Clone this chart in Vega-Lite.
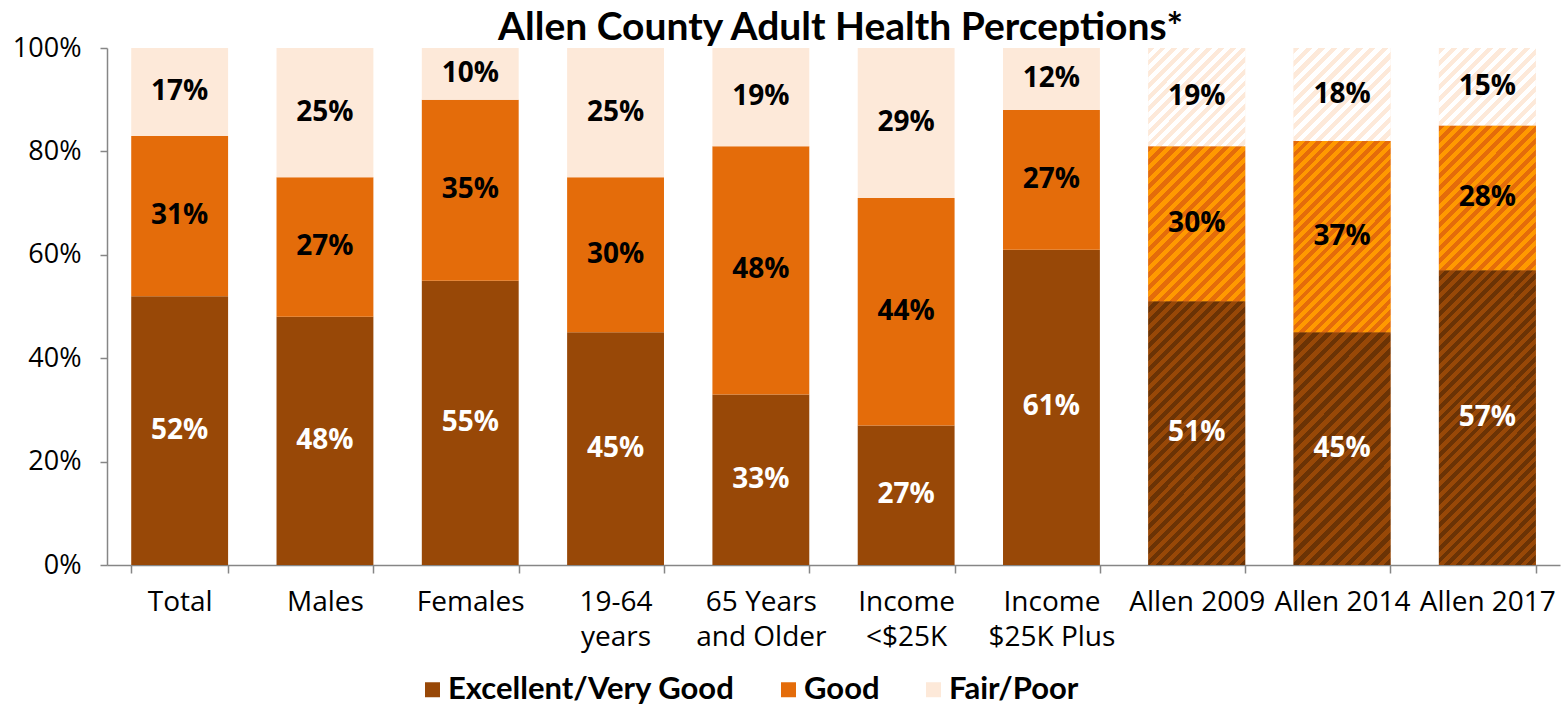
{
"$schema": "https://vega.github.io/schema/vega-lite/v6.json",
"width": 1453, "height": 517,
"autosize": {"type": "none"},
"padding": {"left": 107, "top": 48, "right": 1, "bottom": 141},
"background": "white",
"config": {"view": {"stroke": null}, "font": "Open Sans"},
"title": {"text": "Allen County Adult Health Perceptions*", "font": "Lato", "fontSize": 39, "fontWeight": "bold", "color": "#000000", "anchor": "middle", "frame": "group", "offset": 3, "dy": 17, "dx": 7},
"data": {"values": [
{"group": "Total", "rating": "Excellent/Very Good", "value": 52},
{"group": "Total", "rating": "Good", "value": 31},
{"group": "Total", "rating": "Fair/Poor", "value": 17},
{"group": "Males", "rating": "Excellent/Very Good", "value": 48},
{"group": "Males", "rating": "Good", "value": 27},
{"group": "Males", "rating": "Fair/Poor", "value": 25},
{"group": "Females", "rating": "Excellent/Very Good", "value": 55},
{"group": "Females", "rating": "Good", "value": 35},
{"group": "Females", "rating": "Fair/Poor", "value": 10},
{"group": "19-64 years", "rating": "Excellent/Very Good", "value": 45},
{"group": "19-64 years", "rating": "Good", "value": 30},
{"group": "19-64 years", "rating": "Fair/Poor", "value": 25},
{"group": "65 Years and Older", "rating": "Excellent/Very Good", "value": 33},
{"group": "65 Years and Older", "rating": "Good", "value": 48},
{"group": "65 Years and Older", "rating": "Fair/Poor", "value": 19},
{"group": "Income <$25K", "rating": "Excellent/Very Good", "value": 27},
{"group": "Income <$25K", "rating": "Good", "value": 44},
{"group": "Income <$25K", "rating": "Fair/Poor", "value": 29},
{"group": "Income $25K Plus", "rating": "Excellent/Very Good", "value": 61},
{"group": "Income $25K Plus", "rating": "Good", "value": 27},
{"group": "Income $25K Plus", "rating": "Fair/Poor", "value": 12},
{"group": "Allen 2009", "rating": "Excellent/Very Good", "value": 51},
{"group": "Allen 2009", "rating": "Good", "value": 30},
{"group": "Allen 2009", "rating": "Fair/Poor", "value": 19},
{"group": "Allen 2014", "rating": "Excellent/Very Good", "value": 45},
{"group": "Allen 2014", "rating": "Good", "value": 37},
{"group": "Allen 2014", "rating": "Fair/Poor", "value": 18},
{"group": "Allen 2017", "rating": "Excellent/Very Good", "value": 57},
{"group": "Allen 2017", "rating": "Good", "value": 28},
{"group": "Allen 2017", "rating": "Fair/Poor", "value": 15}
]},
"transform": [
{"calculate": "indexof(['Excellent/Very Good','Good','Fair/Poor'], datum.rating)", "as": "ord"},
{"stack": "value", "groupby": ["group"], "sort": [{"field": "ord", "order": "ascending"}], "as": ["v0", "v1"]},
{"calculate": "(datum.v0 + datum.v1) / 2", "as": "mid"},
{"calculate": "datum.value + '%'", "as": "lbl"}
],
"encoding": {
"x": {"field": "group", "type": "nominal", "sort": null,
 "scale": {"paddingInner": 0.3333, "paddingOuter": 0.1667},
 "axis": {"title": null, "labelAngle": 0, "labelFont": "Open Sans", "labelFontSize": 28, "labelColor": "#000000", "labelPadding": 15, "labelLineHeight": 35, "tickBand": "extent", "tickSize": 8, "tickColor": "#868686", "tickWidth": 1.5, "domainColor": "#868686", "domainWidth": 1.5,
  "labelExpr": "datum.label == '19-64 years' ? ['19-64', 'years'] : datum.label == '65 Years and Older' ? ['65 Years', 'and Older'] : datum.label == 'Income <$25K' ? ['Income', '<$25K'] : datum.label == 'Income $25K Plus' ? ['Income', '$25K Plus'] : datum.label"}},
"y": {"field": "v1", "type": "quantitative", "scale": {"domain": [0, 100], "nice": false},
 "axis": {"title": null, "values": [0, 20, 40, 60, 80, 100], "labelExpr": "datum.value + '%'", "grid": false, "labelFont": "Open Sans", "labelFontSize": 27, "labelColor": "#000000", "labelPadding": 19, "tickSize": 7, "tickColor": "#868686", "tickWidth": 1.5, "domainColor": "#868686", "domainWidth": 1.5}}
},
"layer": [
{"mark": {"type": "bar"},
 "encoding": {"y2": {"field": "v0"},
  "color": {"field": "rating", "type": "nominal",
   "scale": {"domain": ["Excellent/Very Good", "Good", "Fair/Poor"], "range": ["#984807", "#e46c0a", "#fde9d9"]},
   "legend": {"orient": "none", "legendX": 310, "legendY": 626, "direction": "horizontal", "title": null, "symbolType": "square", "symbolSize": 225, "symbolStrokeWidth": 0, "symbolOpacity": 1, "labelFont": "Lato", "labelFontSize": 31, "labelFontWeight": "bold", "labelColor": "#000000", "labelLimit": 600, "columnPadding": 38, "labelOffset": 0}}}},
{"transform": [{"filter": "datum.group == 'Allen 2009' && datum.rating == 'Excellent/Very Good'"}],
 "mark": {"type": "bar", "color": {"gradient": "linear", "x1": 0, "y1": 0, "x2": 0.4432, "y2": 1.2048, "stops": [
{"offset":0,"color":"#984807"},
{"offset":0.0167,"color":"#984807"},{"offset":0.0167,"color":"#6b3305"},{"offset":0.0333,"color":"#6b3305"},{"offset":0.0333,"color":"#984807"},{"offset":0.05,"color":"#984807"},{"offset":0.05,"color":"#6b3305"},{"offset":0.0667,"color":"#6b3305"},{"offset":0.0667,"color":"#984807"},{"offset":0.0833,"color":"#984807"},{"offset":0.0833,"color":"#6b3305"},{"offset":0.1,"color":"#6b3305"},{"offset":0.1,"color":"#984807"},
{"offset":0.1167,"color":"#984807"},{"offset":0.1167,"color":"#6b3305"},{"offset":0.1333,"color":"#6b3305"},{"offset":0.1333,"color":"#984807"},{"offset":0.15,"color":"#984807"},{"offset":0.15,"color":"#6b3305"},{"offset":0.1667,"color":"#6b3305"},{"offset":0.1667,"color":"#984807"},{"offset":0.1833,"color":"#984807"},{"offset":0.1833,"color":"#6b3305"},{"offset":0.2,"color":"#6b3305"},{"offset":0.2,"color":"#984807"},
{"offset":0.2167,"color":"#984807"},{"offset":0.2167,"color":"#6b3305"},{"offset":0.2333,"color":"#6b3305"},{"offset":0.2333,"color":"#984807"},{"offset":0.25,"color":"#984807"},{"offset":0.25,"color":"#6b3305"},{"offset":0.2667,"color":"#6b3305"},{"offset":0.2667,"color":"#984807"},{"offset":0.2833,"color":"#984807"},{"offset":0.2833,"color":"#6b3305"},{"offset":0.3,"color":"#6b3305"},{"offset":0.3,"color":"#984807"},
{"offset":0.3167,"color":"#984807"},{"offset":0.3167,"color":"#6b3305"},{"offset":0.3333,"color":"#6b3305"},{"offset":0.3333,"color":"#984807"},{"offset":0.35,"color":"#984807"},{"offset":0.35,"color":"#6b3305"},{"offset":0.3667,"color":"#6b3305"},{"offset":0.3667,"color":"#984807"},{"offset":0.3833,"color":"#984807"},{"offset":0.3833,"color":"#6b3305"},{"offset":0.4,"color":"#6b3305"},{"offset":0.4,"color":"#984807"},
{"offset":0.4167,"color":"#984807"},{"offset":0.4167,"color":"#6b3305"},{"offset":0.4333,"color":"#6b3305"},{"offset":0.4333,"color":"#984807"},{"offset":0.45,"color":"#984807"},{"offset":0.45,"color":"#6b3305"},{"offset":0.4667,"color":"#6b3305"},{"offset":0.4667,"color":"#984807"},{"offset":0.4833,"color":"#984807"},{"offset":0.4833,"color":"#6b3305"},{"offset":0.5,"color":"#6b3305"},{"offset":0.5,"color":"#984807"},
{"offset":0.5167,"color":"#984807"},{"offset":0.5167,"color":"#6b3305"},{"offset":0.5333,"color":"#6b3305"},{"offset":0.5333,"color":"#984807"},{"offset":0.55,"color":"#984807"},{"offset":0.55,"color":"#6b3305"},{"offset":0.5667,"color":"#6b3305"},{"offset":0.5667,"color":"#984807"},{"offset":0.5833,"color":"#984807"},{"offset":0.5833,"color":"#6b3305"},{"offset":0.6,"color":"#6b3305"},{"offset":0.6,"color":"#984807"},
{"offset":0.6167,"color":"#984807"},{"offset":0.6167,"color":"#6b3305"},{"offset":0.6333,"color":"#6b3305"},{"offset":0.6333,"color":"#984807"},{"offset":0.65,"color":"#984807"},{"offset":0.65,"color":"#6b3305"},{"offset":0.6667,"color":"#6b3305"},{"offset":0.6667,"color":"#984807"},{"offset":0.6833,"color":"#984807"},{"offset":0.6833,"color":"#6b3305"},{"offset":0.7,"color":"#6b3305"},{"offset":0.7,"color":"#984807"},
{"offset":0.7167,"color":"#984807"},{"offset":0.7167,"color":"#6b3305"},{"offset":0.7333,"color":"#6b3305"},{"offset":0.7333,"color":"#984807"},{"offset":0.75,"color":"#984807"},{"offset":0.75,"color":"#6b3305"},{"offset":0.7667,"color":"#6b3305"},{"offset":0.7667,"color":"#984807"},{"offset":0.7833,"color":"#984807"},{"offset":0.7833,"color":"#6b3305"},{"offset":0.8,"color":"#6b3305"},{"offset":0.8,"color":"#984807"},
{"offset":0.8167,"color":"#984807"},{"offset":0.8167,"color":"#6b3305"},{"offset":0.8333,"color":"#6b3305"},{"offset":0.8333,"color":"#984807"},{"offset":0.85,"color":"#984807"},{"offset":0.85,"color":"#6b3305"},{"offset":0.8667,"color":"#6b3305"},{"offset":0.8667,"color":"#984807"},{"offset":0.8833,"color":"#984807"},{"offset":0.8833,"color":"#6b3305"},{"offset":0.9,"color":"#6b3305"},{"offset":0.9,"color":"#984807"},
{"offset":0.9167,"color":"#984807"},{"offset":0.9167,"color":"#6b3305"},{"offset":0.9333,"color":"#6b3305"},{"offset":0.9333,"color":"#984807"},{"offset":0.95,"color":"#984807"},{"offset":0.95,"color":"#6b3305"},{"offset":0.9667,"color":"#6b3305"},{"offset":0.9667,"color":"#984807"},{"offset":0.9833,"color":"#984807"},{"offset":0.9833,"color":"#6b3305"}]}},
 "encoding": {"y2": {"field": "v0"}}},
{"transform": [{"filter": "datum.group == 'Allen 2009' && datum.rating == 'Good'"}],
 "mark": {"type": "bar", "color": {"gradient": "linear", "x1": 0, "y1": 0, "x2": 0.7307, "y2": 1.1684, "stops": [
{"offset":0,"color":"#e46c0a"},
{"offset":0.025,"color":"#e46c0a"},{"offset":0.025,"color":"#ff9900"},{"offset":0.05,"color":"#ff9900"},{"offset":0.05,"color":"#e46c0a"},{"offset":0.075,"color":"#e46c0a"},{"offset":0.075,"color":"#ff9900"},{"offset":0.1,"color":"#ff9900"},{"offset":0.1,"color":"#e46c0a"},
{"offset":0.125,"color":"#e46c0a"},{"offset":0.125,"color":"#ff9900"},{"offset":0.15,"color":"#ff9900"},{"offset":0.15,"color":"#e46c0a"},{"offset":0.175,"color":"#e46c0a"},{"offset":0.175,"color":"#ff9900"},{"offset":0.2,"color":"#ff9900"},{"offset":0.2,"color":"#e46c0a"},
{"offset":0.225,"color":"#e46c0a"},{"offset":0.225,"color":"#ff9900"},{"offset":0.25,"color":"#ff9900"},{"offset":0.25,"color":"#e46c0a"},{"offset":0.275,"color":"#e46c0a"},{"offset":0.275,"color":"#ff9900"},{"offset":0.3,"color":"#ff9900"},{"offset":0.3,"color":"#e46c0a"},
{"offset":0.325,"color":"#e46c0a"},{"offset":0.325,"color":"#ff9900"},{"offset":0.35,"color":"#ff9900"},{"offset":0.35,"color":"#e46c0a"},{"offset":0.375,"color":"#e46c0a"},{"offset":0.375,"color":"#ff9900"},{"offset":0.4,"color":"#ff9900"},{"offset":0.4,"color":"#e46c0a"},
{"offset":0.425,"color":"#e46c0a"},{"offset":0.425,"color":"#ff9900"},{"offset":0.45,"color":"#ff9900"},{"offset":0.45,"color":"#e46c0a"},{"offset":0.475,"color":"#e46c0a"},{"offset":0.475,"color":"#ff9900"},{"offset":0.5,"color":"#ff9900"},{"offset":0.5,"color":"#e46c0a"},
{"offset":0.525,"color":"#e46c0a"},{"offset":0.525,"color":"#ff9900"},{"offset":0.55,"color":"#ff9900"},{"offset":0.55,"color":"#e46c0a"},{"offset":0.575,"color":"#e46c0a"},{"offset":0.575,"color":"#ff9900"},{"offset":0.6,"color":"#ff9900"},{"offset":0.6,"color":"#e46c0a"},
{"offset":0.625,"color":"#e46c0a"},{"offset":0.625,"color":"#ff9900"},{"offset":0.65,"color":"#ff9900"},{"offset":0.65,"color":"#e46c0a"},{"offset":0.675,"color":"#e46c0a"},{"offset":0.675,"color":"#ff9900"},{"offset":0.7,"color":"#ff9900"},{"offset":0.7,"color":"#e46c0a"},
{"offset":0.725,"color":"#e46c0a"},{"offset":0.725,"color":"#ff9900"},{"offset":0.75,"color":"#ff9900"},{"offset":0.75,"color":"#e46c0a"},{"offset":0.775,"color":"#e46c0a"},{"offset":0.775,"color":"#ff9900"},{"offset":0.8,"color":"#ff9900"},{"offset":0.8,"color":"#e46c0a"},
{"offset":0.825,"color":"#e46c0a"},{"offset":0.825,"color":"#ff9900"},{"offset":0.85,"color":"#ff9900"},{"offset":0.85,"color":"#e46c0a"},{"offset":0.875,"color":"#e46c0a"},{"offset":0.875,"color":"#ff9900"},{"offset":0.9,"color":"#ff9900"},{"offset":0.9,"color":"#e46c0a"},
{"offset":0.925,"color":"#e46c0a"},{"offset":0.925,"color":"#ff9900"},{"offset":0.95,"color":"#ff9900"},{"offset":0.95,"color":"#e46c0a"},{"offset":0.975,"color":"#e46c0a"},{"offset":0.975,"color":"#ff9900"}]}},
 "encoding": {"y2": {"field": "v0"}}},
{"transform": [{"filter": "datum.group == 'Allen 2009' && datum.rating == 'Fair/Poor'"}],
 "mark": {"type": "bar", "color": {"gradient": "linear", "x1": 0, "y1": 0, "x2": 0.9938, "y2": 1.0061, "stops": [
{"offset":0,"color":"#fde9d9"},
{"offset":0.03,"color":"#fde9d9"},{"offset":0.03,"color":"#ffffff"},{"offset":0.06,"color":"#ffffff"},{"offset":0.06,"color":"#fde9d9"},{"offset":0.09,"color":"#fde9d9"},{"offset":0.09,"color":"#ffffff"},{"offset":0.12,"color":"#ffffff"},{"offset":0.12,"color":"#fde9d9"},
{"offset":0.15,"color":"#fde9d9"},{"offset":0.15,"color":"#ffffff"},{"offset":0.18,"color":"#ffffff"},{"offset":0.18,"color":"#fde9d9"},{"offset":0.21,"color":"#fde9d9"},{"offset":0.21,"color":"#ffffff"},{"offset":0.24,"color":"#ffffff"},{"offset":0.24,"color":"#fde9d9"},
{"offset":0.27,"color":"#fde9d9"},{"offset":0.27,"color":"#ffffff"},{"offset":0.3,"color":"#ffffff"},{"offset":0.3,"color":"#fde9d9"},{"offset":0.33,"color":"#fde9d9"},{"offset":0.33,"color":"#ffffff"},{"offset":0.36,"color":"#ffffff"},{"offset":0.36,"color":"#fde9d9"},
{"offset":0.39,"color":"#fde9d9"},{"offset":0.39,"color":"#ffffff"},{"offset":0.42,"color":"#ffffff"},{"offset":0.42,"color":"#fde9d9"},{"offset":0.45,"color":"#fde9d9"},{"offset":0.45,"color":"#ffffff"},{"offset":0.48,"color":"#ffffff"},{"offset":0.48,"color":"#fde9d9"},
{"offset":0.51,"color":"#fde9d9"},{"offset":0.51,"color":"#ffffff"},{"offset":0.54,"color":"#ffffff"},{"offset":0.54,"color":"#fde9d9"},{"offset":0.57,"color":"#fde9d9"},{"offset":0.57,"color":"#ffffff"},{"offset":0.6,"color":"#ffffff"},{"offset":0.6,"color":"#fde9d9"},
{"offset":0.63,"color":"#fde9d9"},{"offset":0.63,"color":"#ffffff"},{"offset":0.66,"color":"#ffffff"},{"offset":0.66,"color":"#fde9d9"},{"offset":0.69,"color":"#fde9d9"},{"offset":0.69,"color":"#ffffff"},{"offset":0.72,"color":"#ffffff"},{"offset":0.72,"color":"#fde9d9"},
{"offset":0.75,"color":"#fde9d9"},{"offset":0.75,"color":"#ffffff"},{"offset":0.78,"color":"#ffffff"},{"offset":0.78,"color":"#fde9d9"},{"offset":0.81,"color":"#fde9d9"},{"offset":0.81,"color":"#ffffff"},{"offset":0.84,"color":"#ffffff"},{"offset":0.84,"color":"#fde9d9"},
{"offset":0.87,"color":"#fde9d9"},{"offset":0.87,"color":"#ffffff"},{"offset":0.9,"color":"#ffffff"},{"offset":0.9,"color":"#fde9d9"},{"offset":0.93,"color":"#fde9d9"},{"offset":0.93,"color":"#ffffff"},{"offset":0.96,"color":"#ffffff"},{"offset":0.96,"color":"#fde9d9"},
{"offset":0.99,"color":"#fde9d9"},{"offset":0.99,"color":"#ffffff"}]}},
 "encoding": {"y2": {"field": "v0"}}},
{"transform": [{"filter": "datum.group == 'Allen 2014' && datum.rating == 'Excellent/Very Good'"}],
 "mark": {"type": "bar", "color": {"gradient": "linear", "x1": 0, "y1": 0, "x2": 0.5033, "y2": 1.2071, "stops": [
{"offset":0,"color":"#984807"},
{"offset":0.02,"color":"#984807"},{"offset":0.02,"color":"#6b3305"},{"offset":0.04,"color":"#6b3305"},{"offset":0.04,"color":"#984807"},{"offset":0.06,"color":"#984807"},{"offset":0.06,"color":"#6b3305"},{"offset":0.08,"color":"#6b3305"},{"offset":0.08,"color":"#984807"},{"offset":0.1,"color":"#984807"},{"offset":0.1,"color":"#6b3305"},
{"offset":0.12,"color":"#6b3305"},{"offset":0.12,"color":"#984807"},{"offset":0.14,"color":"#984807"},{"offset":0.14,"color":"#6b3305"},{"offset":0.16,"color":"#6b3305"},{"offset":0.16,"color":"#984807"},{"offset":0.18,"color":"#984807"},{"offset":0.18,"color":"#6b3305"},{"offset":0.2,"color":"#6b3305"},{"offset":0.2,"color":"#984807"},
{"offset":0.22,"color":"#984807"},{"offset":0.22,"color":"#6b3305"},{"offset":0.24,"color":"#6b3305"},{"offset":0.24,"color":"#984807"},{"offset":0.26,"color":"#984807"},{"offset":0.26,"color":"#6b3305"},{"offset":0.28,"color":"#6b3305"},{"offset":0.28,"color":"#984807"},{"offset":0.3,"color":"#984807"},{"offset":0.3,"color":"#6b3305"},
{"offset":0.32,"color":"#6b3305"},{"offset":0.32,"color":"#984807"},{"offset":0.34,"color":"#984807"},{"offset":0.34,"color":"#6b3305"},{"offset":0.36,"color":"#6b3305"},{"offset":0.36,"color":"#984807"},{"offset":0.38,"color":"#984807"},{"offset":0.38,"color":"#6b3305"},{"offset":0.4,"color":"#6b3305"},{"offset":0.4,"color":"#984807"},
{"offset":0.42,"color":"#984807"},{"offset":0.42,"color":"#6b3305"},{"offset":0.44,"color":"#6b3305"},{"offset":0.44,"color":"#984807"},{"offset":0.46,"color":"#984807"},{"offset":0.46,"color":"#6b3305"},{"offset":0.48,"color":"#6b3305"},{"offset":0.48,"color":"#984807"},{"offset":0.5,"color":"#984807"},{"offset":0.5,"color":"#6b3305"},
{"offset":0.52,"color":"#6b3305"},{"offset":0.52,"color":"#984807"},{"offset":0.54,"color":"#984807"},{"offset":0.54,"color":"#6b3305"},{"offset":0.56,"color":"#6b3305"},{"offset":0.56,"color":"#984807"},{"offset":0.58,"color":"#984807"},{"offset":0.58,"color":"#6b3305"},{"offset":0.6,"color":"#6b3305"},{"offset":0.6,"color":"#984807"},
{"offset":0.62,"color":"#984807"},{"offset":0.62,"color":"#6b3305"},{"offset":0.64,"color":"#6b3305"},{"offset":0.64,"color":"#984807"},{"offset":0.66,"color":"#984807"},{"offset":0.66,"color":"#6b3305"},{"offset":0.68,"color":"#6b3305"},{"offset":0.68,"color":"#984807"},{"offset":0.7,"color":"#984807"},{"offset":0.7,"color":"#6b3305"},
{"offset":0.72,"color":"#6b3305"},{"offset":0.72,"color":"#984807"},{"offset":0.74,"color":"#984807"},{"offset":0.74,"color":"#6b3305"},{"offset":0.76,"color":"#6b3305"},{"offset":0.76,"color":"#984807"},{"offset":0.78,"color":"#984807"},{"offset":0.78,"color":"#6b3305"},{"offset":0.8,"color":"#6b3305"},{"offset":0.8,"color":"#984807"},
{"offset":0.82,"color":"#984807"},{"offset":0.82,"color":"#6b3305"},{"offset":0.84,"color":"#6b3305"},{"offset":0.84,"color":"#984807"},{"offset":0.86,"color":"#984807"},{"offset":0.86,"color":"#6b3305"},{"offset":0.88,"color":"#6b3305"},{"offset":0.88,"color":"#984807"},{"offset":0.9,"color":"#984807"},{"offset":0.9,"color":"#6b3305"},
{"offset":0.92,"color":"#6b3305"},{"offset":0.92,"color":"#984807"},{"offset":0.94,"color":"#984807"},{"offset":0.94,"color":"#6b3305"},{"offset":0.96,"color":"#6b3305"},{"offset":0.96,"color":"#984807"},{"offset":0.98,"color":"#984807"},{"offset":0.98,"color":"#6b3305"}]}},
 "encoding": {"y2": {"field": "v0"}}},
{"transform": [{"filter": "datum.group == 'Allen 2014' && datum.rating == 'Good'"}],
 "mark": {"type": "bar", "color": {"gradient": "linear", "x1": 0, "y1": 0, "x2": 0.6079, "y2": 1.1988, "stops": [
{"offset":0,"color":"#e46c0a"},
{"offset":0.02,"color":"#e46c0a"},{"offset":0.02,"color":"#ff9900"},{"offset":0.04,"color":"#ff9900"},{"offset":0.04,"color":"#e46c0a"},{"offset":0.06,"color":"#e46c0a"},{"offset":0.06,"color":"#ff9900"},{"offset":0.08,"color":"#ff9900"},{"offset":0.08,"color":"#e46c0a"},{"offset":0.1,"color":"#e46c0a"},{"offset":0.1,"color":"#ff9900"},
{"offset":0.12,"color":"#ff9900"},{"offset":0.12,"color":"#e46c0a"},{"offset":0.14,"color":"#e46c0a"},{"offset":0.14,"color":"#ff9900"},{"offset":0.16,"color":"#ff9900"},{"offset":0.16,"color":"#e46c0a"},{"offset":0.18,"color":"#e46c0a"},{"offset":0.18,"color":"#ff9900"},{"offset":0.2,"color":"#ff9900"},{"offset":0.2,"color":"#e46c0a"},
{"offset":0.22,"color":"#e46c0a"},{"offset":0.22,"color":"#ff9900"},{"offset":0.24,"color":"#ff9900"},{"offset":0.24,"color":"#e46c0a"},{"offset":0.26,"color":"#e46c0a"},{"offset":0.26,"color":"#ff9900"},{"offset":0.28,"color":"#ff9900"},{"offset":0.28,"color":"#e46c0a"},{"offset":0.3,"color":"#e46c0a"},{"offset":0.3,"color":"#ff9900"},
{"offset":0.32,"color":"#ff9900"},{"offset":0.32,"color":"#e46c0a"},{"offset":0.34,"color":"#e46c0a"},{"offset":0.34,"color":"#ff9900"},{"offset":0.36,"color":"#ff9900"},{"offset":0.36,"color":"#e46c0a"},{"offset":0.38,"color":"#e46c0a"},{"offset":0.38,"color":"#ff9900"},{"offset":0.4,"color":"#ff9900"},{"offset":0.4,"color":"#e46c0a"},
{"offset":0.42,"color":"#e46c0a"},{"offset":0.42,"color":"#ff9900"},{"offset":0.44,"color":"#ff9900"},{"offset":0.44,"color":"#e46c0a"},{"offset":0.46,"color":"#e46c0a"},{"offset":0.46,"color":"#ff9900"},{"offset":0.48,"color":"#ff9900"},{"offset":0.48,"color":"#e46c0a"},{"offset":0.5,"color":"#e46c0a"},{"offset":0.5,"color":"#ff9900"},
{"offset":0.52,"color":"#ff9900"},{"offset":0.52,"color":"#e46c0a"},{"offset":0.54,"color":"#e46c0a"},{"offset":0.54,"color":"#ff9900"},{"offset":0.56,"color":"#ff9900"},{"offset":0.56,"color":"#e46c0a"},{"offset":0.58,"color":"#e46c0a"},{"offset":0.58,"color":"#ff9900"},{"offset":0.6,"color":"#ff9900"},{"offset":0.6,"color":"#e46c0a"},
{"offset":0.62,"color":"#e46c0a"},{"offset":0.62,"color":"#ff9900"},{"offset":0.64,"color":"#ff9900"},{"offset":0.64,"color":"#e46c0a"},{"offset":0.66,"color":"#e46c0a"},{"offset":0.66,"color":"#ff9900"},{"offset":0.68,"color":"#ff9900"},{"offset":0.68,"color":"#e46c0a"},{"offset":0.7,"color":"#e46c0a"},{"offset":0.7,"color":"#ff9900"},
{"offset":0.72,"color":"#ff9900"},{"offset":0.72,"color":"#e46c0a"},{"offset":0.74,"color":"#e46c0a"},{"offset":0.74,"color":"#ff9900"},{"offset":0.76,"color":"#ff9900"},{"offset":0.76,"color":"#e46c0a"},{"offset":0.78,"color":"#e46c0a"},{"offset":0.78,"color":"#ff9900"},{"offset":0.8,"color":"#ff9900"},{"offset":0.8,"color":"#e46c0a"},
{"offset":0.82,"color":"#e46c0a"},{"offset":0.82,"color":"#ff9900"},{"offset":0.84,"color":"#ff9900"},{"offset":0.84,"color":"#e46c0a"},{"offset":0.86,"color":"#e46c0a"},{"offset":0.86,"color":"#ff9900"},{"offset":0.88,"color":"#ff9900"},{"offset":0.88,"color":"#e46c0a"},{"offset":0.9,"color":"#e46c0a"},{"offset":0.9,"color":"#ff9900"},
{"offset":0.92,"color":"#ff9900"},{"offset":0.92,"color":"#e46c0a"},{"offset":0.94,"color":"#e46c0a"},{"offset":0.94,"color":"#ff9900"},{"offset":0.96,"color":"#ff9900"},{"offset":0.96,"color":"#e46c0a"},{"offset":0.98,"color":"#e46c0a"},{"offset":0.98,"color":"#ff9900"}]}},
 "encoding": {"y2": {"field": "v0"}}},
{"transform": [{"filter": "datum.group == 'Allen 2014' && datum.rating == 'Fair/Poor'"}],
 "mark": {"type": "bar", "color": {"gradient": "linear", "x1": 0, "y1": 0, "x2": 1.0203, "y2": 0.9789, "stops": [
{"offset":0,"color":"#fde9d9"},
{"offset":0.0333,"color":"#fde9d9"},{"offset":0.0333,"color":"#ffffff"},{"offset":0.0667,"color":"#ffffff"},{"offset":0.0667,"color":"#fde9d9"},{"offset":0.1,"color":"#fde9d9"},{"offset":0.1,"color":"#ffffff"},
{"offset":0.1333,"color":"#ffffff"},{"offset":0.1333,"color":"#fde9d9"},{"offset":0.1667,"color":"#fde9d9"},{"offset":0.1667,"color":"#ffffff"},{"offset":0.2,"color":"#ffffff"},{"offset":0.2,"color":"#fde9d9"},
{"offset":0.2333,"color":"#fde9d9"},{"offset":0.2333,"color":"#ffffff"},{"offset":0.2667,"color":"#ffffff"},{"offset":0.2667,"color":"#fde9d9"},{"offset":0.3,"color":"#fde9d9"},{"offset":0.3,"color":"#ffffff"},
{"offset":0.3333,"color":"#ffffff"},{"offset":0.3333,"color":"#fde9d9"},{"offset":0.3667,"color":"#fde9d9"},{"offset":0.3667,"color":"#ffffff"},{"offset":0.4,"color":"#ffffff"},{"offset":0.4,"color":"#fde9d9"},
{"offset":0.4333,"color":"#fde9d9"},{"offset":0.4333,"color":"#ffffff"},{"offset":0.4667,"color":"#ffffff"},{"offset":0.4667,"color":"#fde9d9"},{"offset":0.5,"color":"#fde9d9"},{"offset":0.5,"color":"#ffffff"},
{"offset":0.5333,"color":"#ffffff"},{"offset":0.5333,"color":"#fde9d9"},{"offset":0.5667,"color":"#fde9d9"},{"offset":0.5667,"color":"#ffffff"},{"offset":0.6,"color":"#ffffff"},{"offset":0.6,"color":"#fde9d9"},
{"offset":0.6333,"color":"#fde9d9"},{"offset":0.6333,"color":"#ffffff"},{"offset":0.6667,"color":"#ffffff"},{"offset":0.6667,"color":"#fde9d9"},{"offset":0.7,"color":"#fde9d9"},{"offset":0.7,"color":"#ffffff"},
{"offset":0.7333,"color":"#ffffff"},{"offset":0.7333,"color":"#fde9d9"},{"offset":0.7667,"color":"#fde9d9"},{"offset":0.7667,"color":"#ffffff"},{"offset":0.8,"color":"#ffffff"},{"offset":0.8,"color":"#fde9d9"},
{"offset":0.8333,"color":"#fde9d9"},{"offset":0.8333,"color":"#ffffff"},{"offset":0.8667,"color":"#ffffff"},{"offset":0.8667,"color":"#fde9d9"},{"offset":0.9,"color":"#fde9d9"},{"offset":0.9,"color":"#ffffff"},
{"offset":0.9333,"color":"#ffffff"},{"offset":0.9333,"color":"#fde9d9"},{"offset":0.9667,"color":"#fde9d9"},{"offset":0.9667,"color":"#ffffff"}]}},
 "encoding": {"y2": {"field": "v0"}}},
{"transform": [{"filter": "datum.group == 'Allen 2017' && datum.rating == 'Excellent/Very Good'"}],
 "mark": {"type": "bar", "color": {"gradient": "linear", "x1": 0, "y1": 0, "x2": 0.3947, "y2": 1.1992, "stops": [
{"offset":0,"color":"#984807"},
{"offset":0.015,"color":"#984807"},{"offset":0.015,"color":"#6b3305"},{"offset":0.03,"color":"#6b3305"},{"offset":0.03,"color":"#984807"},{"offset":0.045,"color":"#984807"},{"offset":0.045,"color":"#6b3305"},{"offset":0.06,"color":"#6b3305"},{"offset":0.06,"color":"#984807"},{"offset":0.075,"color":"#984807"},{"offset":0.075,"color":"#6b3305"},{"offset":0.09,"color":"#6b3305"},{"offset":0.09,"color":"#984807"},
{"offset":0.105,"color":"#984807"},{"offset":0.105,"color":"#6b3305"},{"offset":0.12,"color":"#6b3305"},{"offset":0.12,"color":"#984807"},{"offset":0.135,"color":"#984807"},{"offset":0.135,"color":"#6b3305"},{"offset":0.15,"color":"#6b3305"},{"offset":0.15,"color":"#984807"},{"offset":0.165,"color":"#984807"},{"offset":0.165,"color":"#6b3305"},{"offset":0.18,"color":"#6b3305"},{"offset":0.18,"color":"#984807"},
{"offset":0.195,"color":"#984807"},{"offset":0.195,"color":"#6b3305"},{"offset":0.21,"color":"#6b3305"},{"offset":0.21,"color":"#984807"},{"offset":0.225,"color":"#984807"},{"offset":0.225,"color":"#6b3305"},{"offset":0.24,"color":"#6b3305"},{"offset":0.24,"color":"#984807"},{"offset":0.255,"color":"#984807"},{"offset":0.255,"color":"#6b3305"},{"offset":0.27,"color":"#6b3305"},{"offset":0.27,"color":"#984807"},
{"offset":0.285,"color":"#984807"},{"offset":0.285,"color":"#6b3305"},{"offset":0.3,"color":"#6b3305"},{"offset":0.3,"color":"#984807"},{"offset":0.315,"color":"#984807"},{"offset":0.315,"color":"#6b3305"},{"offset":0.33,"color":"#6b3305"},{"offset":0.33,"color":"#984807"},{"offset":0.345,"color":"#984807"},{"offset":0.345,"color":"#6b3305"},{"offset":0.36,"color":"#6b3305"},{"offset":0.36,"color":"#984807"},
{"offset":0.375,"color":"#984807"},{"offset":0.375,"color":"#6b3305"},{"offset":0.39,"color":"#6b3305"},{"offset":0.39,"color":"#984807"},{"offset":0.405,"color":"#984807"},{"offset":0.405,"color":"#6b3305"},{"offset":0.42,"color":"#6b3305"},{"offset":0.42,"color":"#984807"},{"offset":0.435,"color":"#984807"},{"offset":0.435,"color":"#6b3305"},{"offset":0.45,"color":"#6b3305"},{"offset":0.45,"color":"#984807"},
{"offset":0.465,"color":"#984807"},{"offset":0.465,"color":"#6b3305"},{"offset":0.48,"color":"#6b3305"},{"offset":0.48,"color":"#984807"},{"offset":0.495,"color":"#984807"},{"offset":0.495,"color":"#6b3305"},{"offset":0.51,"color":"#6b3305"},{"offset":0.51,"color":"#984807"},{"offset":0.525,"color":"#984807"},{"offset":0.525,"color":"#6b3305"},{"offset":0.54,"color":"#6b3305"},{"offset":0.54,"color":"#984807"},
{"offset":0.555,"color":"#984807"},{"offset":0.555,"color":"#6b3305"},{"offset":0.57,"color":"#6b3305"},{"offset":0.57,"color":"#984807"},{"offset":0.585,"color":"#984807"},{"offset":0.585,"color":"#6b3305"},{"offset":0.6,"color":"#6b3305"},{"offset":0.6,"color":"#984807"},{"offset":0.615,"color":"#984807"},{"offset":0.615,"color":"#6b3305"},{"offset":0.63,"color":"#6b3305"},{"offset":0.63,"color":"#984807"},
{"offset":0.645,"color":"#984807"},{"offset":0.645,"color":"#6b3305"},{"offset":0.66,"color":"#6b3305"},{"offset":0.66,"color":"#984807"},{"offset":0.675,"color":"#984807"},{"offset":0.675,"color":"#6b3305"},{"offset":0.69,"color":"#6b3305"},{"offset":0.69,"color":"#984807"},{"offset":0.705,"color":"#984807"},{"offset":0.705,"color":"#6b3305"},{"offset":0.72,"color":"#6b3305"},{"offset":0.72,"color":"#984807"},
{"offset":0.735,"color":"#984807"},{"offset":0.735,"color":"#6b3305"},{"offset":0.75,"color":"#6b3305"},{"offset":0.75,"color":"#984807"},{"offset":0.765,"color":"#984807"},{"offset":0.765,"color":"#6b3305"},{"offset":0.78,"color":"#6b3305"},{"offset":0.78,"color":"#984807"},{"offset":0.795,"color":"#984807"},{"offset":0.795,"color":"#6b3305"},{"offset":0.81,"color":"#6b3305"},{"offset":0.81,"color":"#984807"},
{"offset":0.825,"color":"#984807"},{"offset":0.825,"color":"#6b3305"},{"offset":0.84,"color":"#6b3305"},{"offset":0.84,"color":"#984807"},{"offset":0.855,"color":"#984807"},{"offset":0.855,"color":"#6b3305"},{"offset":0.87,"color":"#6b3305"},{"offset":0.87,"color":"#984807"},{"offset":0.885,"color":"#984807"},{"offset":0.885,"color":"#6b3305"},{"offset":0.9,"color":"#6b3305"},{"offset":0.9,"color":"#984807"},
{"offset":0.915,"color":"#984807"},{"offset":0.915,"color":"#6b3305"},{"offset":0.93,"color":"#6b3305"},{"offset":0.93,"color":"#984807"},{"offset":0.945,"color":"#984807"},{"offset":0.945,"color":"#6b3305"},{"offset":0.96,"color":"#6b3305"},{"offset":0.96,"color":"#984807"},{"offset":0.975,"color":"#984807"},{"offset":0.975,"color":"#6b3305"},{"offset":0.99,"color":"#6b3305"},{"offset":0.99,"color":"#984807"}]}},
 "encoding": {"y2": {"field": "v0"}}},
{"transform": [{"filter": "datum.group == 'Allen 2017' && datum.rating == 'Good'"}],
 "mark": {"type": "bar", "color": {"gradient": "linear", "x1": 0, "y1": 0, "x2": 0.7723, "y2": 1.1526, "stops": [
{"offset":0,"color":"#e46c0a"},
{"offset":0.025,"color":"#e46c0a"},{"offset":0.025,"color":"#ff9900"},{"offset":0.05,"color":"#ff9900"},{"offset":0.05,"color":"#e46c0a"},{"offset":0.075,"color":"#e46c0a"},{"offset":0.075,"color":"#ff9900"},{"offset":0.1,"color":"#ff9900"},{"offset":0.1,"color":"#e46c0a"},
{"offset":0.125,"color":"#e46c0a"},{"offset":0.125,"color":"#ff9900"},{"offset":0.15,"color":"#ff9900"},{"offset":0.15,"color":"#e46c0a"},{"offset":0.175,"color":"#e46c0a"},{"offset":0.175,"color":"#ff9900"},{"offset":0.2,"color":"#ff9900"},{"offset":0.2,"color":"#e46c0a"},
{"offset":0.225,"color":"#e46c0a"},{"offset":0.225,"color":"#ff9900"},{"offset":0.25,"color":"#ff9900"},{"offset":0.25,"color":"#e46c0a"},{"offset":0.275,"color":"#e46c0a"},{"offset":0.275,"color":"#ff9900"},{"offset":0.3,"color":"#ff9900"},{"offset":0.3,"color":"#e46c0a"},
{"offset":0.325,"color":"#e46c0a"},{"offset":0.325,"color":"#ff9900"},{"offset":0.35,"color":"#ff9900"},{"offset":0.35,"color":"#e46c0a"},{"offset":0.375,"color":"#e46c0a"},{"offset":0.375,"color":"#ff9900"},{"offset":0.4,"color":"#ff9900"},{"offset":0.4,"color":"#e46c0a"},
{"offset":0.425,"color":"#e46c0a"},{"offset":0.425,"color":"#ff9900"},{"offset":0.45,"color":"#ff9900"},{"offset":0.45,"color":"#e46c0a"},{"offset":0.475,"color":"#e46c0a"},{"offset":0.475,"color":"#ff9900"},{"offset":0.5,"color":"#ff9900"},{"offset":0.5,"color":"#e46c0a"},
{"offset":0.525,"color":"#e46c0a"},{"offset":0.525,"color":"#ff9900"},{"offset":0.55,"color":"#ff9900"},{"offset":0.55,"color":"#e46c0a"},{"offset":0.575,"color":"#e46c0a"},{"offset":0.575,"color":"#ff9900"},{"offset":0.6,"color":"#ff9900"},{"offset":0.6,"color":"#e46c0a"},
{"offset":0.625,"color":"#e46c0a"},{"offset":0.625,"color":"#ff9900"},{"offset":0.65,"color":"#ff9900"},{"offset":0.65,"color":"#e46c0a"},{"offset":0.675,"color":"#e46c0a"},{"offset":0.675,"color":"#ff9900"},{"offset":0.7,"color":"#ff9900"},{"offset":0.7,"color":"#e46c0a"},
{"offset":0.725,"color":"#e46c0a"},{"offset":0.725,"color":"#ff9900"},{"offset":0.75,"color":"#ff9900"},{"offset":0.75,"color":"#e46c0a"},{"offset":0.775,"color":"#e46c0a"},{"offset":0.775,"color":"#ff9900"},{"offset":0.8,"color":"#ff9900"},{"offset":0.8,"color":"#e46c0a"},
{"offset":0.825,"color":"#e46c0a"},{"offset":0.825,"color":"#ff9900"},{"offset":0.85,"color":"#ff9900"},{"offset":0.85,"color":"#e46c0a"},{"offset":0.875,"color":"#e46c0a"},{"offset":0.875,"color":"#ff9900"},{"offset":0.9,"color":"#ff9900"},{"offset":0.9,"color":"#e46c0a"},
{"offset":0.925,"color":"#e46c0a"},{"offset":0.925,"color":"#ff9900"},{"offset":0.95,"color":"#ff9900"},{"offset":0.95,"color":"#e46c0a"},{"offset":0.975,"color":"#e46c0a"},{"offset":0.975,"color":"#ff9900"}]}},
 "encoding": {"y2": {"field": "v0"}}},
{"transform": [{"filter": "datum.group == 'Allen 2017' && datum.rating == 'Fair/Poor'"}],
 "mark": {"type": "bar", "color": {"gradient": "linear", "x1": 0, "y1": 0, "x2": 1.0978, "y2": 0.8777, "stops": [
{"offset":0,"color":"#fde9d9"},
{"offset":0.035,"color":"#fde9d9"},{"offset":0.035,"color":"#ffffff"},{"offset":0.07,"color":"#ffffff"},{"offset":0.07,"color":"#fde9d9"},{"offset":0.105,"color":"#fde9d9"},{"offset":0.105,"color":"#ffffff"},{"offset":0.14,"color":"#ffffff"},{"offset":0.14,"color":"#fde9d9"},
{"offset":0.175,"color":"#fde9d9"},{"offset":0.175,"color":"#ffffff"},{"offset":0.21,"color":"#ffffff"},{"offset":0.21,"color":"#fde9d9"},{"offset":0.245,"color":"#fde9d9"},{"offset":0.245,"color":"#ffffff"},{"offset":0.28,"color":"#ffffff"},{"offset":0.28,"color":"#fde9d9"},
{"offset":0.315,"color":"#fde9d9"},{"offset":0.315,"color":"#ffffff"},{"offset":0.35,"color":"#ffffff"},{"offset":0.35,"color":"#fde9d9"},{"offset":0.385,"color":"#fde9d9"},{"offset":0.385,"color":"#ffffff"},{"offset":0.42,"color":"#ffffff"},{"offset":0.42,"color":"#fde9d9"},
{"offset":0.455,"color":"#fde9d9"},{"offset":0.455,"color":"#ffffff"},{"offset":0.49,"color":"#ffffff"},{"offset":0.49,"color":"#fde9d9"},{"offset":0.525,"color":"#fde9d9"},{"offset":0.525,"color":"#ffffff"},{"offset":0.56,"color":"#ffffff"},{"offset":0.56,"color":"#fde9d9"},
{"offset":0.595,"color":"#fde9d9"},{"offset":0.595,"color":"#ffffff"},{"offset":0.63,"color":"#ffffff"},{"offset":0.63,"color":"#fde9d9"},{"offset":0.665,"color":"#fde9d9"},{"offset":0.665,"color":"#ffffff"},{"offset":0.7,"color":"#ffffff"},{"offset":0.7,"color":"#fde9d9"},
{"offset":0.735,"color":"#fde9d9"},{"offset":0.735,"color":"#ffffff"},{"offset":0.77,"color":"#ffffff"},{"offset":0.77,"color":"#fde9d9"},{"offset":0.805,"color":"#fde9d9"},{"offset":0.805,"color":"#ffffff"},{"offset":0.84,"color":"#ffffff"},{"offset":0.84,"color":"#fde9d9"},
{"offset":0.875,"color":"#fde9d9"},{"offset":0.875,"color":"#ffffff"},{"offset":0.91,"color":"#ffffff"},{"offset":0.91,"color":"#fde9d9"},{"offset":0.945,"color":"#fde9d9"},{"offset":0.945,"color":"#ffffff"},{"offset":0.98,"color":"#ffffff"},{"offset":0.98,"color":"#fde9d9"}]}},
 "encoding": {"y2": {"field": "v0"}}},
{"mark": {"type": "text", "font": "Open Sans", "fontWeight": "bold", "fontSize": 28, "baseline": "middle", "align": "center"},
 "encoding": {
  "y": {"field": "mid", "type": "quantitative",
   "axis": {"title": null, "values": [0, 20, 40, 60, 80, 100], "labelExpr": "datum.value + '%'", "grid": false, "labelFont": "Open Sans", "labelFontSize": 27, "labelColor": "#000000", "labelPadding": 19, "tickSize": 7, "tickColor": "#868686", "tickWidth": 1.5, "domainColor": "#868686", "domainWidth": 1.5}},
  "text": {"field": "lbl", "type": "nominal"},
  "color": {"condition": {"test": "datum.rating == 'Excellent/Very Good'", "value": "#ffffff"}, "value": "#000000"}}}
]
}
